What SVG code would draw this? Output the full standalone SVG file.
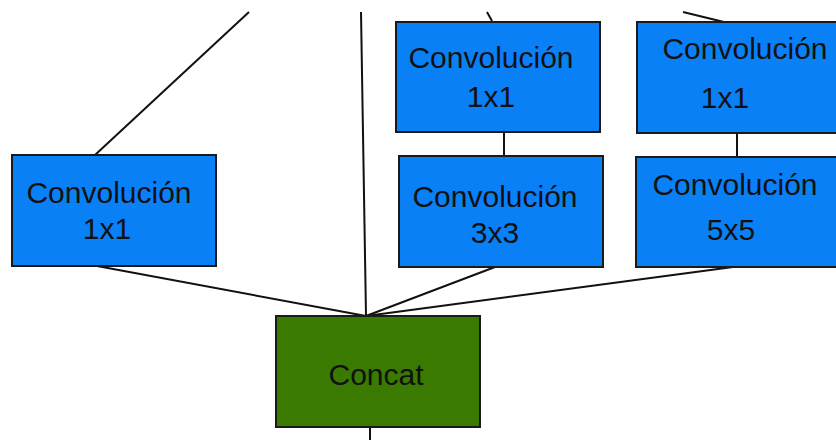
<svg xmlns="http://www.w3.org/2000/svg" width="836" height="440" viewBox="0 0 836 440">
<style>
.conv{fill:#0a80f7;stroke:#1a1a1a;stroke-width:2}
.cat{fill:#3a7a00;stroke:#1a1a1a;stroke-width:2}
.t{font-family:"Liberation Sans",Arial,sans-serif;font-size:30px;fill:#111;text-anchor:middle}
.e{stroke:#111;stroke-width:2;fill:none}
</style>
<rect width="836" height="440" fill="#fff"/>
<g id="connectors">
<line class="e" x1="249" y1="12" x2="95" y2="155"/>
<line class="e" x1="361" y1="12" x2="366" y2="316"/>
<line class="e" x1="487" y1="12" x2="492" y2="21"/>
<line class="e" x1="683" y1="12" x2="728" y2="23"/>
<line class="e" x1="504" y1="132" x2="504" y2="156"/>
<line class="e" x1="737" y1="133" x2="737" y2="157"/>
<line class="e" x1="97" y1="266" x2="366" y2="316"/>
<line class="e" x1="495" y1="267" x2="366" y2="316"/>
<line class="e" x1="733" y1="267" x2="366" y2="316"/>
<line class="e" x1="370" y1="427" x2="370" y2="440"/>
</g>
<g id="conv1x1_a">
<rect class="conv" x="12" y="155" width="204" height="111"/>
<text class="t" x="109" y="203">Convolución</text>
<text class="t" x="107" y="239">1x1</text>
</g>
<g id="conv1x1_b">
<rect class="conv" x="396" y="22" width="204" height="110"/>
<text class="t" x="491" y="68">Convolución</text>
<text class="t" x="491" y="107">1x1</text>
</g>
<g id="conv1x1_c">
<rect class="conv" x="637" y="22" width="205" height="111"/>
<text class="t" x="745" y="59">Convolución</text>
<text class="t" x="725" y="108">1x1</text>
</g>
<g id="conv3x3">
<rect class="conv" x="399" y="156" width="204" height="111"/>
<text class="t" x="495" y="207">Convolución</text>
<text class="t" x="495" y="243">3x3</text>
</g>
<g id="conv5x5">
<rect class="conv" x="636" y="157" width="206" height="110"/>
<text class="t" x="735" y="195">Convolución</text>
<text class="t" x="731" y="240">5x5</text>
</g>
<g id="concat">
<rect class="cat" x="276" y="316" width="204" height="111"/>
<text class="t" x="376" y="385">Concat</text>
</g>
</svg>
